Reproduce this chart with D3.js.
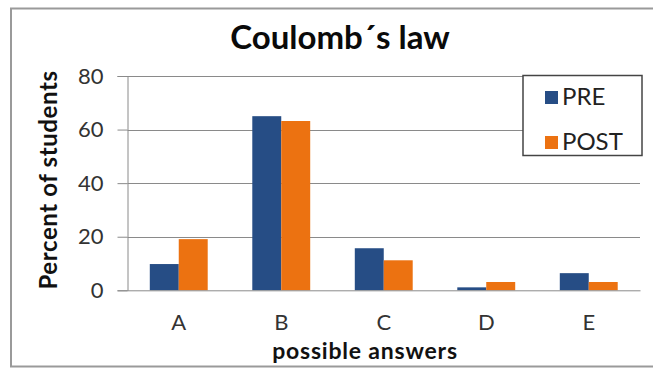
<!DOCTYPE html>
<html>
<head>
<meta charset="utf-8">
<script src="https://cdn.jsdelivr.net/npm/d3@7"></script>
<style>
  html, body { margin: 0; padding: 0; background: #fff; }
  svg { display: block; font-family: Lato, "Open Sans", sans-serif; }
</style>
</head>
<body>
<svg id="chart" width="653" height="369"></svg>
<script>
const categories = ["A", "B", "C", "D", "E"];
const seriesNames = ["PRE", "POST"];
const preValues = [9.8, 65, 15.7, 1.1, 6.4];
const postValues = [19.1, 63.2, 11.2, 3.1, 3.1];
const yTicks = [0, 20, 40, 60, 80];
const colors = ["#264D85", "#EC7211"];

const title = "Coulomb\u00B4s law";
const xTitle = "possible answers";
const yTitle = "Percent of students";

const svg = d3.select("#chart");

// outer frame
svg.append("rect").attr("x", 11).attr("y", 8.5).attr("width", 700).attr("height", 358)
  .attr("fill", "#fff").attr("stroke", "#9a9a9a").attr("stroke-width", 2);

const plotLeft = 127.5, plotRight = 640, plotTop = 76, plotBottom = 290.3;

const x0 = d3.scaleBand().domain(categories).range([plotLeft, plotRight])
  .paddingInner(0.435).paddingOuter(0.2175);
const x1 = d3.scaleBand().domain(seriesNames).range([0, x0.bandwidth()]);
const y = d3.scaleLinear().domain([0, 80]).range([plotBottom, plotTop]);

// gridlines
svg.append("g").selectAll("line").data(yTicks.filter(d => d > 0)).join("line")
  .attr("x1", plotLeft).attr("x2", plotRight)
  .attr("y1", d => Math.round(y(d)) + 0.5).attr("y2", d => Math.round(y(d)) + 0.5)
  .attr("stroke", "#8a8a8a").attr("stroke-width", 1);

// y axis
const yAxis = d3.axisLeft(y).tickValues(yTicks).tickSize(10).tickPadding(14);
const gy = svg.append("g").attr("transform", `translate(${plotLeft},0)`).call(yAxis);
gy.select(".domain").attr("stroke", "#8a8a8a");
gy.selectAll(".tick line").attr("stroke", "#8a8a8a");
gy.selectAll(".tick text").attr("font-size", 22).attr("fill", "#333")
  .attr("font-family", "Lato, sans-serif");

// bars
const data = categories.map((c, i) => ({ cat: c, vals: [
  { s: "PRE", v: preValues[i] }, { s: "POST", v: postValues[i] }] }));
const groups = svg.append("g").selectAll("g").data(data).join("g")
  .attr("transform", d => `translate(${x0(d.cat)},0)`);
groups.selectAll("rect").data(d => d.vals).join("rect")
  .attr("x", d => x1(d.s)).attr("width", x1.bandwidth())
  .attr("y", d => y(d.v)).attr("height", d => y(0) - y(d.v))
  .attr("fill", (d, i) => colors[i]);

// x axis line
const xAxis = d3.axisBottom(x0).tickSize(0).tickPadding(24);
const gx = svg.append("g").attr("transform", `translate(0,${plotBottom})`).call(xAxis);
gx.select(".domain").attr("stroke", "#8a8a8a");
gx.selectAll(".tick text").attr("font-size", 22).attr("fill", "#333")
  .attr("font-family", "Lato, sans-serif");

// title
svg.append("text").attr("x", 340).attr("y", 49).attr("text-anchor", "middle")
  .attr("font-size", 33).attr("font-weight", "bold").attr("fill", "#0a0a0a").text(title);

// axis titles
svg.append("text").attr("x", 365).attr("y", 359).attr("text-anchor", "middle")
  .attr("font-size", 23).attr("font-weight", "bold").attr("letter-spacing", 0.8)
  .attr("fill", "#111").text(xTitle);
svg.append("text").attr("transform", "translate(57,180) rotate(-90)").attr("text-anchor", "middle")
  .attr("font-size", 24).attr("font-weight", "bold").attr("letter-spacing", 0.6)
  .attr("fill", "#111").text(yTitle);

// legend
const lg = svg.append("g");
lg.append("rect").attr("x", 523).attr("y", 75.5).attr("width", 119).attr("height", 80)
  .attr("fill", "#fff").attr("stroke", "#444").attr("stroke-width", 1.5);
seriesNames.forEach((s, i) => {
  const yy = 97 + i * 45;
  lg.append("rect").attr("x", 545).attr("y", yy - 6).attr("width", 13).attr("height", 13)
    .attr("fill", colors[i]);
  lg.append("text").attr("x", 562).attr("y", yy + 8).attr("font-size", 24)
    .attr("fill", "#222").text(s);
});
</script>
</body>
</html>
